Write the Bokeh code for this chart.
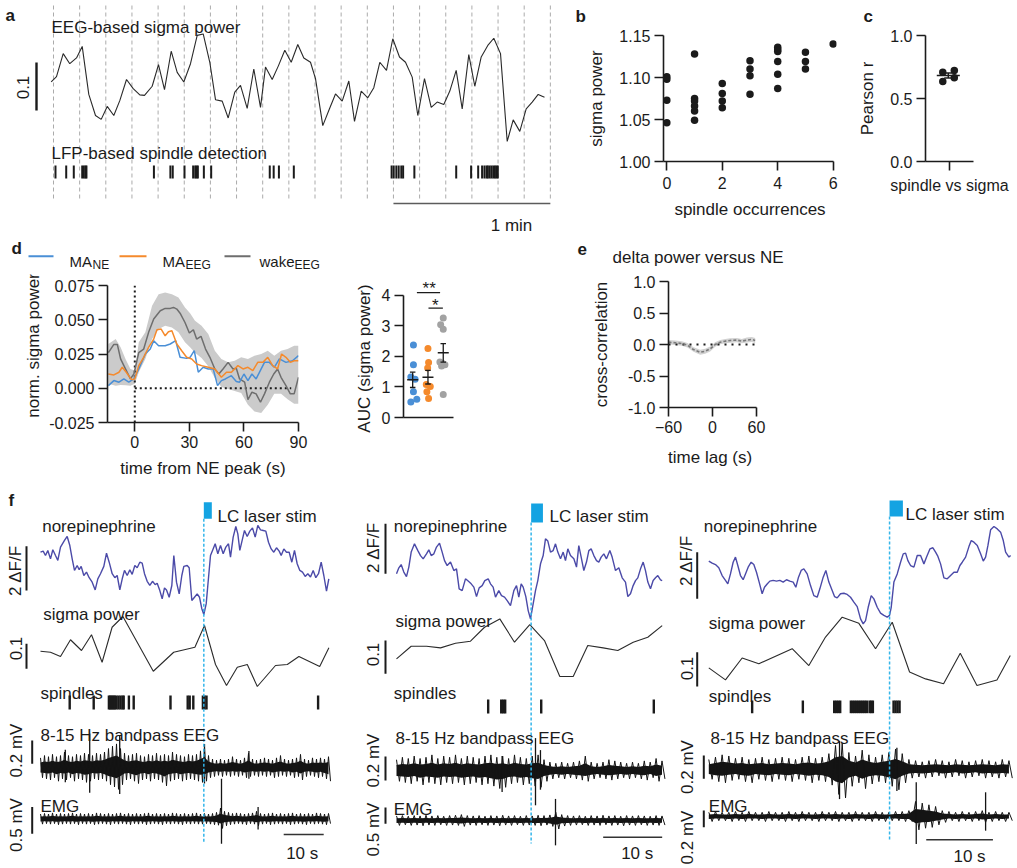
import math
from bokeh.plotting import figure
from bokeh.models import Range1d, FixedTicker, NumeralTickFormatter
from bokeh.layouts import row, column
from bokeh.embed import file_html
from bokeh.resources import INLINE
from bokeh.core.properties import value

FONT = "Liberation Sans"
INK = "#1b1b1b"
NE_COL = "#4b4aa8"
STIM_LINE = "#33b5ea"
STIM_RECT = "#14a3e2"
BLUE = "#4a8fd6"
ORANGE = "#f58a2c"
GRAY = "#6e6e6e"
LGRAY = "#a2a2a2"
BAND = "#cbcbcb"
TRACE = "#141414"

# ======================= DATA =======================
# (a) EEG-based sigma power and LFP-based spindles, time in s
a_bins = [0, 10, 20, 30, 40, 50, 60, 70, 80, 90, 100, 110, 120, 130, 140, 150, 160, 170, 180, 190]
a_sigma_t = [-0.88, 1.15, 3.71, 6.23, 8.80, 10.98, 13.50, 16.06, 18.24, 20.54, 23.06, 25.35, 27.92, 30.48,
             33.00, 34.80, 37.74, 40.15, 42.45, 45.01, 47.30, 49.83, 52.39, 54.95, 57.25, 59.77, 61.95, 64.51,
             66.81, 69.33, 71.51, 74.07, 76.60, 79.16, 81.07, 83.63, 86.04, 88.45, 90.90, 93.42, 95.72, 98.28,
             100.19, 102.98, 105.54, 107.84, 110.40, 112.93, 115.11, 117.67, 120.19, 122.49, 124.78, 127.34,
             129.75, 132.31, 134.61, 137.17, 139.31, 141.87, 144.44, 146.73, 149.25, 151.55, 153.99, 156.29,
             158.81, 161.11, 163.56, 166.08, 168.38, 170.94, 173.50, 175.79, 178.32, 180.76, 183.06, 185.35, 187.76]
a_sigma = [0.122, 0.133, 0.181, 0.160, 0.172, 0.196, 0.096, 0.052, 0.044, 0.071, 0.052, 0.083, 0.127, 0.108,
           0.095, 0.094, 0.113, 0.158, 0.106, 0.186, 0.142, 0.122, 0.160, 0.219, 0.222, 0.163, 0.085, 0.082,
           0.047, 0.101, 0.115, 0.067, 0.149, 0.069, 0.153, 0.127, 0.156, 0.188, 0.163, 0.200, 0.172, 0.163,
           0.129, 0.031, 0.066, 0.097, 0.082, 0.124, 0.040, 0.103, 0.089, 0.110, 0.163, 0.146, 0.212, 0.174,
           0.163, 0.132, 0.052, 0.129, 0.069, 0.080, 0.075, 0.103, 0.146, 0.066, 0.179, 0.113, 0.174, 0.198,
           0.213, 0.181, -0.002, 0.043, 0.019, 0.066, 0.080, 0.096, 0.090]
a_spindles = [0.76, 4.86, 7.76, 10.98, 11.6, 12.24, 12.6, 38.4, 44.7, 45.6, 50.1, 53.4, 54.2, 54.7, 55.2, 57.5,
              60.3, 82.7, 84.2, 86.2, 91.9, 129.3, 130.1, 131.1, 132.0, 133.0, 133.7, 138.0, 154.0, 159.7, 162.4,
              163.9, 164.8, 165.6, 166.1, 166.8, 167.5, 168.2, 168.8, 169.4, 169.9]

# (b) sigma power vs spindle occurrences
b_occ = [0, 0, 0, 0, 1, 1, 1, 1, 1, 1, 2, 2, 2, 2, 3, 3, 3, 3, 4, 4, 4, 4, 4, 4, 5, 5, 5, 6]
b_sigma = [1.101, 1.098, 1.073, 1.046, 1.128, 1.075, 1.072, 1.066, 1.060, 1.049, 1.093, 1.081, 1.072, 1.064,
           1.120, 1.110, 1.102, 1.080, 1.136, 1.133, 1.131, 1.119, 1.104, 1.087, 1.130, 1.119, 1.110, 1.140]

# (c) Pearson r
c_r = [0.709, 0.722, 0.635, 0.664]

# (d) normalised sigma power around NE peaks
d_ne_t = [-14.5, -11.5, -8.7, -6, -3.3, -0.5, 2.2, 5.8, 8.5, 10.4, 13.1, 16.7, 19.5, 22.5, 24.9, 28.5, 30.4, 32.7,
          34.9, 37.6, 40.4, 43.1, 45.5, 47.6, 49.8, 53.1, 55.8, 57.6, 60, 62.2, 64.4, 66.7, 71.3, 74, 76.7, 79.5,
          83.1, 86.7, 90]
d_ne = [0.0019, 0.0056, 0.0044, 0.0068, 0.0044, 0.0068, 0.0141, 0.025, 0.0286, 0.0347, 0.031, 0.031, 0.0323,
        0.0347, 0.0226, 0.0218, 0.0226, 0.0274, 0.0117, 0.0153, 0.0141, 0.0141, 0.0019, 0.0056, 0.0068, 0.0092,
        0.0049, 0.0044, 0.0104, 0.0056, 0.0104, 0.0068, 0.0189, 0.0189, 0.0153, 0.0214, 0.0189, 0.0201, 0.0238]
d_eeg_t = [-14.5, -11.5, -8.7, -6.9, -4.7, -1.8, 0, 2.2, 4.9, 7.6, 10.4, 12.2, 14.5, 16.7, 18.5, 20.4, 23.1, 25.8,
           28.5, 31.3, 34, 36.7, 40.4, 44, 47.6, 50.4, 53.1, 56.7, 59.5, 62.2, 64.9, 67.6, 70.4, 73.1, 75.8, 78.5,
           80.7, 83.1, 85.5, 87.6, 90]
d_eeg = [0.0104, 0.0097, 0.0117, 0.0153, 0.0117, 0.0063, 0.0068, 0.0165, 0.0226, 0.0299, 0.0359, 0.0427, 0.0432,
         0.0383, 0.0413, 0.042, 0.0323, 0.0274, 0.0226, 0.0214, 0.0177, 0.0165, 0.0153, 0.0141, 0.008, 0.0117,
         0.0117, 0.0165, 0.0141, 0.0153, 0.0129, 0.0189, 0.0189, 0.0226, 0.0165, 0.0141, 0.025, 0.0226, 0.0189,
         0.0201, 0.0201]
d_wake_t = [-14.5, -11.5, -9.6, -7.8, -6, -2.4, -0.5, 2.2, 4.9, 7.6, 10.4, 14, 16.7, 19.5, 21.3, 23.1, 24.9, 27.6,
            30, 32.2, 34, 36.4, 38.9, 41.3, 44, 46.2, 48.5, 51.3, 54, 55.8, 57.6, 60.4, 62.2, 64.4, 66.7, 69.1,
            71.3, 74, 76.4, 78.5, 80.4, 83.1, 85.5, 87.6, 90]
d_wake = [0.026, 0.032, 0.032, 0.0214, 0.0165, 0.0068, 0.0104, 0.026, 0.0286, 0.0408, 0.0505, 0.0566, 0.0583,
          0.0583, 0.059, 0.0578, 0.0548, 0.048, 0.0403, 0.0427, 0.0359, 0.0379, 0.0286, 0.0226, 0.0141, 0.0104,
          0.0141, 0.0189, 0.0141, 0.0146, 0.0068, 0.0044, -0.0083, -0.0029, -0.0041, -0.0102, -0.0041, 0.0044,
          0.0104, 0.0141, 0.008, 0.0019, -0.0041, -0.0041, 0.008]
d_band_t = [-14.5, -10.5, -7.8, -5.1, -2.4, 0, 2.2, 5.8, 9.5, 13.1, 16.7, 20.4, 24, 27.6, 30.4, 33.1, 36.7, 40.4,
            44, 47.6, 51.3, 54.9, 58.5, 62.2, 65.8, 69.5, 73.1, 76.7, 80.4, 84, 87.6, 90]
d_band_hi = [0.0323, 0.0359, 0.0299, 0.0214, 0.0141, 0.0129, 0.0335, 0.0408, 0.0602, 0.0687, 0.0699, 0.0687,
             0.0663, 0.059, 0.0548, 0.0493, 0.0456, 0.0396, 0.0274, 0.0214, 0.0189, 0.0201, 0.0226, 0.0214,
             0.0238, 0.025, 0.0274, 0.0238, 0.0274, 0.0286, 0.0311, 0.0311]
d_band_lo = [0.0032, 0.0019, 0.0023, 0.0022, 0.0019, 0.0032, 0.0117, 0.0214, 0.0359, 0.0432, 0.0456, 0.0444,
             0.0408, 0.0335, 0.030, 0.026, 0.022, 0.016, 0.0075, 0.001, -0.0005, -0.002, -0.0035, -0.012, -0.017,
             -0.018, -0.012, -0.004, -0.004, -0.008, -0.0114, -0.0114]

# (d, right) AUC of sigma power
auc_ne = [2.38, 1.73, 1.33, 1.25, 0.84, 0.60, 0.51]
auc_ma = [2.26, 1.80, 1.62, 1.08, 1.02, 0.84, 0.62]
auc_wake = [3.26, 3.04, 2.89, 1.82, 1.77, 1.73, 1.69, 0.75]

# (e) delta power vs NE cross-correlation
e_t = [-60, -50.9, -41.8, -34.1, -25.9, -16.8, -10, -3.2, 3.6, 10.5, 17.3, 24.1, 33.2, 40, 46.8, 53.6, 58.2]
e_r = [0.037, 0.027, 0.016, -0.011, -0.08, -0.123, -0.107, -0.07, 0.0, 0.037, 0.053, 0.064, 0.07, 0.053, 0.07,
       0.08, 0.064]
e_sem = [0.035, 0.035, 0.035, 0.035, 0.035, 0.04, 0.04, 0.04, 0.035, 0.035, 0.035, 0.035, 0.035, 0.035, 0.04,
         0.04, 0.04]

# (f) example traces, three recordings (time in s)
ne1_t = [0.00, 0.67, 1.25, 1.83, 2.50, 3.08, 3.75, 4.33, 5.00, 6.00, 6.67, 7.33, 7.92, 8.50, 9.17, 9.67, 10.17,
         10.83, 11.50, 12.17, 12.92, 13.67, 14.33, 15.00, 15.83, 16.50, 17.17, 17.92, 18.58, 19.17, 19.83, 20.50,
         21.00, 21.67, 22.33, 22.92, 23.58, 24.17, 24.83, 25.42, 26.00, 26.67, 27.33, 28.00, 28.67, 29.17, 29.83,
         30.42, 31.00, 31.50, 32.17, 32.83, 33.33, 34.00, 34.67, 35.33, 35.83, 36.67, 37.17, 37.83, 38.50, 39.17,
         39.75, 40.33, 40.83, 41.42, 41.83, 42.50, 43.08, 43.67, 44.33, 45.00, 45.67, 46.33, 47.00, 47.50, 48.17,
         48.83, 49.33, 49.83, 50.50, 51.00, 51.67, 52.33, 53.00, 53.67, 54.33, 55.00, 55.67, 56.33, 57.00, 57.67,
         58.33, 59.00, 59.67, 60.17, 60.83, 61.50, 62.17, 62.83, 63.50, 64.17, 64.83, 65.50, 66.17, 66.83, 67.50,
         68.17, 68.83, 69.50, 70.17, 70.83, 71.50, 72.08]
ne1 = [3.23, 3.28, 3.08, 3.31, 2.93, 3.34, 3.08, 2.86, 3.46, 3.76, 3.94, 3.53, 2.93, 2.41, 2.63, 2.44, 2.59, 2.18,
       2.33, 2.08, 1.88, 1.53, 2.03, 2.26, 2.59, 3.19, 2.78, 2.26, 2.08, 2.18, 1.53, 2.08, 2.41, 2.18, 2.44, 2.23,
       2.63, 2.53, 2.78, 2.74, 2.26, 1.92, 1.73, 1.92, 1.77, 1.83, 1.50, 1.13, 1.62, 1.53, 1.20, 1.73, 3.08, 1.88,
       1.35, 2.18, 2.59, 2.63, 2.53, 1.05, 1.20, 1.35, 1.20, 0.68, 0.42, 0.90, 1.73, 3.08, 3.34, 3.61, 3.16, 3.53,
       3.16, 3.46, 3.61, 3.01, 3.91, 4.39, 4.06, 3.31, 3.83, 4.21, 3.94, 4.18, 4.33, 3.91, 4.44, 4.24, 4.21, 4.18,
       3.68, 3.38, 3.23, 3.43, 3.28, 3.08, 3.38, 3.23, 3.23, 2.78, 3.31, 2.71, 2.41, 2.33, 2.14, 2.26, 2.11, 2.41,
       2.08, 2.26, 2.78, 2.18, 1.47, 2.03]
ne2_t = [0.00, 0.40, 0.79, 1.24, 1.69, 2.09, 2.49, 3.05, 3.62, 4.07, 4.52, 5.08, 5.48, 5.88, 6.33, 6.78, 7.29,
         7.74, 8.14, 8.59, 9.15, 9.72, 10.17, 10.62, 11.13, 11.69, 12.15, 12.66, 13.11, 13.56, 14.01, 14.52, 14.97,
         15.54, 15.93, 16.38, 16.78, 17.34, 17.80, 18.31, 18.76, 19.32, 19.89, 20.34, 20.73, 21.13, 21.47, 21.92,
         22.32, 22.71, 23.16, 23.56, 23.95, 24.41, 24.86, 25.25, 25.65, 26.10, 26.55, 26.95, 27.34, 27.80, 28.25,
         28.64, 29.04, 29.49, 30.06, 30.51, 30.90, 31.30, 31.75, 32.20, 32.60, 32.99, 33.45, 33.90, 34.29, 34.69,
         35.14, 35.59, 36.16, 36.55, 37.12, 37.68, 38.25, 38.81, 39.21, 39.66, 40.11, 40.51, 40.90, 41.36, 41.81,
         42.20, 42.60, 43.05, 43.50, 43.90, 44.29, 44.75, 45.03]
ne2 = [2.00, 2.24, 2.37, 2.07, 1.89, 2.27, 2.87, 3.20, 2.93, 2.73, 2.60, 2.80, 2.96, 2.73, 2.80, 3.07, 3.23, 2.87,
       2.53, 2.33, 2.47, 2.13, 2.20, 1.40, 1.33, 1.80, 1.71, 1.60, 1.47, 1.09, 1.44, 1.53, 1.73, 1.80, 1.60, 1.47,
       1.07, 1.33, 1.13, 1.07, 0.93, 0.73, 1.33, 1.53, 1.07, 1.60, 1.47, 1.09, 0.53, 0.20, 0.80, 1.33, 1.73, 2.40,
       2.73, 3.40, 3.31, 2.87, 2.93, 3.20, 2.87, 2.60, 2.87, 2.53, 3.00, 2.73, 2.60, 2.27, 3.13, 2.67, 2.13, 2.47,
       2.93, 3.00, 2.73, 2.53, 2.47, 2.67, 2.80, 2.60, 2.93, 2.67, 2.13, 2.24, 1.84, 1.67, 1.09, 1.20, 1.53, 1.73,
       1.84, 2.20, 2.47, 2.13, 1.67, 1.40, 1.73, 1.84, 1.93, 1.76, 1.73]
ne3_t = [0.00, 0.50, 1.00, 1.50, 2.00, 2.50, 2.85, 3.25, 3.65, 4.00, 4.35, 4.75, 5.15, 5.50, 5.90, 6.35, 6.75,
         7.15, 7.55, 8.00, 8.35, 8.75, 9.15, 9.65, 10.15, 10.65, 11.15, 11.65, 12.15, 12.65, 13.05, 13.45, 13.85,
         14.25, 14.75, 15.25, 15.75, 16.25, 16.65, 17.15, 17.55, 18.00, 18.50, 18.85, 19.25, 19.75, 20.25, 20.75,
         21.25, 21.75, 22.25, 22.75, 23.15, 23.50, 23.90, 24.35, 24.75, 25.25, 25.75, 26.25, 26.75, 27.10, 27.35,
         27.75, 28.25, 28.75, 29.15, 29.50, 29.85, 30.25, 30.75, 31.25, 31.75, 32.25, 32.65, 33.15, 33.60, 34.00,
         34.35, 34.75, 35.25, 35.75, 36.25, 36.75, 37.25, 37.65, 38.00, 38.50, 39.00, 39.35, 39.75, 40.25, 40.75,
         41.15, 41.50, 41.85, 42.25, 42.75, 43.25, 43.75, 44.15, 44.50, 45.00, 45.25]
ne3 = [2.69, 2.60, 2.54, 2.40, 2.07, 1.86, 1.71, 2.14, 2.64, 2.86, 2.50, 2.07, 1.89, 2.14, 2.43, 2.64, 2.54, 2.21,
       1.79, 1.29, 1.57, 1.71, 1.83, 1.86, 1.83, 1.86, 1.79, 1.89, 1.83, 1.79, 1.57, 2.00, 2.29, 2.36, 2.14, 1.64,
       1.21, 1.14, 1.50, 2.00, 2.29, 1.79, 1.43, 1.17, 1.11, 1.29, 1.31, 1.26, 1.14, 0.93, 0.74, 0.21, 0.00, 0.14,
       0.71, 1.21, 1.07, 0.71, 0.46, 0.36, 0.29, 0.36, 0.71, 1.79, 2.14, 2.64, 3.00, 3.03, 2.71, 2.50, 2.43, 2.93,
       2.93, 2.57, 2.86, 3.21, 3.26, 3.07, 2.89, 2.57, 1.97, 1.93, 2.07, 2.21, 2.21, 2.50, 2.64, 2.86, 3.31, 3.57,
       3.50, 3.36, 3.00, 2.69, 2.86, 3.36, 4.03, 4.17, 4.07, 3.93, 3.57, 3.07, 2.86, 2.93]

sg1_t = [0, 2.5, 5, 7.5, 10.25, 12.75, 15.4, 17.9, 20.6, 28.2, 33.3, 38.6, 41, 43.75, 46.5, 49.2, 51.7, 54.2,
         58.75, 61.7, 64.6, 69.8, 72.1]
sg1 = [0.197, 0.193, 0.176, 0.243, 0.200, 0.263, 0.153, 0.293, 0.336, 0.117, 0.193, 0.213, 0.300, 0.144, 0.060,
       0.133, 0.144, 0.056, 0.140, 0.144, 0.176, 0.136, 0.211]
sg2_t = [0, 2.49, 5.08, 7.46, 10.0, 12.54, 14.92, 17.51, 20.0, 22.59, 25.08, 27.68, 29.95, 32.42, 35.03, 37.51,
         40.12, 42.59, 45.03]
sg2 = [0.125, 0.163, 0.163, 0.158, 0.172, 0.178, 0.220, 0.245, 0.175, 0.228, 0.180, 0.072, 0.072, 0.165, 0.158,
       0.150, 0.175, 0.190, 0.225]
sg3_t = [0, 2.5, 5.0, 7.5, 12.5, 15.0, 17.5, 20.0, 22.5, 25.0, 27.5, 30.1, 32.5, 35.2, 37.7, 40.2, 43.2, 45.2]
sg3 = [0.095, 0.060, 0.124, 0.107, 0.151, 0.102, 0.185, 0.243, 0.225, 0.151, 0.228, 0.083, 0.063, 0.049, 0.138,
       0.044, 0.060, 0.131]

sp1 = [7.3, 13.3, 17.1, 17.4, 17.7, 18.0, 18.3, 18.6, 19.0, 19.5, 20.0, 20.5, 20.8, 22.1, 23.3, 32.5, 36.8, 37.3,
       38.2, 40.6, 41.0, 41.5, 69.4]
sp2 = [15.54, 17.75, 18.08, 18.42, 24.53, 43.61]
sp3 = [6.5, 14.1, 18.8, 19.1, 19.4, 19.7, 21.3, 21.6, 21.9, 22.2, 22.5, 22.8, 23.1, 23.4, 23.7, 24.1, 24.35,
       24.6, 27.7, 28.0, 28.3, 28.6]

stim_t = [40.83, 22.82, 27.1]

# 8-15 Hz bandpass EEG envelope (mV), 1 s samples
eeg1_t = list(range(0, 73))
eeg1_hi = [0.08, 0.10, 0.09, 0.11, 0.09, 0.10, 0.13, 0.10, 0.09, 0.11, 0.10, 0.12, 0.11, 0.10, 0.12, 0.11, 0.13,
           0.16, 0.18, 0.20, 0.16, 0.12, 0.10, 0.11, 0.12, 0.10, 0.09, 0.11, 0.10, 0.12, 0.10, 0.11, 0.10, 0.13,
           0.11, 0.10, 0.09, 0.11, 0.10, 0.11, 0.14, 0.17, 0.10, 0.07, 0.06, 0.07, 0.06, 0.07, 0.09, 0.07, 0.06,
           0.08, 0.12, 0.07, 0.06, 0.07, 0.08, 0.07, 0.06, 0.08, 0.10, 0.07, 0.06, 0.07, 0.08, 0.11, 0.07, 0.06,
           0.08, 0.07, 0.08, 0.07, 0.09]
eeg1_lo = [-0.09, -0.10, -0.11, -0.09, -0.12, -0.10, -0.11, -0.09, -0.12, -0.10, -0.11, -0.13, -0.12, -0.10,
           -0.11, -0.10, -0.12, -0.15, -0.17, -0.19, -0.15, -0.11, -0.10, -0.12, -0.14, -0.11, -0.10, -0.12, -0.10,
           -0.11, -0.13, -0.16, -0.12, -0.11, -0.10, -0.12, -0.11, -0.10, -0.11, -0.12, -0.13, -0.12, -0.09, -0.08,
           -0.07, -0.08, -0.07, -0.08, -0.07, -0.08, -0.07, -0.09, -0.08, -0.07, -0.08, -0.07, -0.08, -0.07, -0.09,
           -0.08, -0.07, -0.08, -0.07, -0.09, -0.08, -0.11, -0.08, -0.07, -0.08, -0.09, -0.08, -0.10, -0.12]
eeg1_spk_t = [6.2, 12.3, 19.8, 41.0, 52.1]
eeg1_spk_hi = [0.15, 0.29, 0.27, 0.20, 0.14]
eeg1_spk_lo = [-0.13, -0.22, -0.23, -0.14, -0.10]

eeg2_t = list(range(0, 46))
eeg2_hi = [0.09, 0.11, 0.10, 0.12, 0.10, 0.11, 0.13, 0.10, 0.12, 0.11, 0.13, 0.10, 0.12, 0.11, 0.10, 0.12, 0.13,
           0.11, 0.12, 0.10, 0.13, 0.11, 0.10, 0.12, 0.13, 0.09, 0.07, 0.06, 0.07, 0.06, 0.07, 0.08, 0.12, 0.07,
           0.06, 0.07, 0.09, 0.08, 0.07, 0.06, 0.07, 0.06, 0.08, 0.07, 0.10, 0.08]
eeg2_lo = [-0.09, -0.10, -0.11, -0.09, -0.12, -0.10, -0.11, -0.12, -0.10, -0.11, -0.10, -0.12, -0.11, -0.10,
           -0.12, -0.11, -0.13, -0.15, -0.14, -0.11, -0.10, -0.12, -0.11, -0.13, -0.14, -0.09, -0.07, -0.06, -0.07,
           -0.06, -0.07, -0.08, -0.09, -0.07, -0.06, -0.07, -0.08, -0.07, -0.06, -0.07, -0.06, -0.07, -0.08, -0.06,
           -0.09, -0.07]
eeg2_spk_t = [17.9, 23.56, 24.4]
eeg2_spk_hi = [0.12, 0.27, 0.17]
eeg2_spk_lo = [-0.18, -0.29, -0.16]

eeg3_t = list(range(0, 46))
eeg3_hi = [0.08, 0.10, 0.12, 0.11, 0.09, 0.10, 0.08, 0.09, 0.10, 0.08, 0.09, 0.10, 0.09, 0.08, 0.10, 0.11, 0.09,
           0.10, 0.13, 0.20, 0.22, 0.14, 0.11, 0.16, 0.12, 0.10, 0.12, 0.14, 0.17, 0.13, 0.08, 0.07, 0.06, 0.07,
           0.08, 0.07, 0.06, 0.08, 0.07, 0.06, 0.07, 0.08, 0.07, 0.06, 0.08, 0.07]
eeg3_lo = [-0.09, -0.11, -0.12, -0.10, -0.09, -0.11, -0.12, -0.09, -0.10, -0.11, -0.09, -0.10, -0.11, -0.09,
           -0.10, -0.12, -0.10, -0.11, -0.14, -0.22, -0.25, -0.15, -0.12, -0.17, -0.13, -0.11, -0.12, -0.15, -0.18,
           -0.12, -0.08, -0.07, -0.08, -0.07, -0.06, -0.08, -0.07, -0.06, -0.08, -0.07, -0.06, -0.08, -0.07, -0.08,
           -0.07, -0.08]
eeg3_spk_t = [19.6, 28.2]
eeg3_spk_hi = [0.24, 0.18]
eeg3_spk_lo = [-0.26, -0.19]

# EMG envelope (mV), 1 s samples
emg1_t = list(range(0, 73))
emg1_hi = [0.09, 0.10, 0.09, 0.11, 0.09, 0.10, 0.09, 0.10, 0.11, 0.09,
           0.10, 0.09, 0.10, 0.09, 0.11, 0.10, 0.09, 0.10, 0.09, 0.10,
           0.11, 0.09, 0.10, 0.09, 0.10, 0.09, 0.10, 0.11, 0.09, 0.10,
           0.09, 0.10, 0.09, 0.11, 0.10, 0.09, 0.10, 0.09, 0.10, 0.11,
           0.09, 0.10, 0.09, 0.10, 0.12, 0.20, 0.14, 0.12, 0.10, 0.11,
           0.10, 0.09, 0.10, 0.11, 0.14, 0.10, 0.09, 0.10, 0.11, 0.09,
           0.10, 0.09, 0.10, 0.11, 0.09, 0.10, 0.09, 0.10, 0.09, 0.11,
           0.10, 0.09, 0.10]
emg1_lo = [-0.10, -0.09, -0.10, -0.09, -0.11, -0.10, -0.09, -0.10, -0.09, -0.11,
           -0.09, -0.10, -0.09, -0.11, -0.10, -0.09, -0.10, -0.11, -0.09, -0.10,
           -0.09, -0.10, -0.11, -0.09, -0.10, -0.09, -0.11, -0.10, -0.09, -0.10,
           -0.11, -0.09, -0.10, -0.09, -0.10, -0.11, -0.09, -0.10, -0.09, -0.10,
           -0.10, -0.09, -0.10, -0.11, -0.12, -0.18, -0.13, -0.11, -0.10, -0.09,
           -0.10, -0.11, -0.09, -0.10, -0.13, -0.10, -0.09, -0.11, -0.10, -0.09,
           -0.10, -0.09, -0.11, -0.10, -0.09, -0.10, -0.11, -0.09, -0.10, -0.09,
           -0.10, -0.11, -0.09]
emg1_spk_t = [45.25, 54.4]
emg1_spk_hi = [0.75, 0.22]
emg1_spk_lo = [-0.47, -0.20]

emg2_t = list(range(0, 46))
emg2_hi = [0.14, 0.15, 0.13, 0.15, 0.14, 0.16, 0.14, 0.15, 0.13, 0.15,
           0.16, 0.18, 0.15, 0.14, 0.15, 0.13, 0.15, 0.14, 0.16, 0.14,
           0.15, 0.13, 0.15, 0.14, 0.16, 0.15, 0.17, 0.25, 0.18, 0.15,
           0.14, 0.15, 0.13, 0.15, 0.14, 0.16, 0.14, 0.15, 0.13, 0.15,
           0.14, 0.15, 0.14, 0.13, 0.15, 0.14]
emg2_lo = [-0.15, -0.13, -0.15, -0.14, -0.16, -0.14, -0.15, -0.13, -0.15, -0.14,
           -0.15, -0.18, -0.14, -0.15, -0.13, -0.15, -0.14, -0.16, -0.14, -0.15,
           -0.13, -0.15, -0.14, -0.15, -0.16, -0.14, -0.18, -0.26, -0.17, -0.15,
           -0.14, -0.13, -0.15, -0.14, -0.15, -0.13, -0.15, -0.14, -0.16, -0.14,
           -0.15, -0.13, -0.15, -0.14, -0.15, -0.14]
emg2_spk_t = [26.95]
emg2_spk_hi = [0.66]
emg2_spk_lo = [-0.76]

emg3_t = list(range(0, 46))
emg3_hi = [0.05, 0.06, 0.05, 0.05, 0.06, 0.05, 0.06, 0.05, 0.05, 0.06,
           0.05, 0.05, 0.06, 0.05, 0.06, 0.05, 0.05, 0.06, 0.05, 0.06,
           0.05, 0.05, 0.06, 0.05, 0.05, 0.06, 0.05, 0.05, 0.06, 0.06,
           0.07, 0.18, 0.16, 0.14, 0.12, 0.07, 0.06, 0.05, 0.06, 0.05,
           0.06, 0.07, 0.05, 0.06, 0.05, 0.05]
emg3_lo = [-0.06, -0.05, -0.05, -0.06, -0.05, -0.06, -0.05, -0.05, -0.06, -0.05,
           -0.05, -0.06, -0.05, -0.06, -0.05, -0.05, -0.06, -0.05, -0.05, -0.06,
           -0.05, -0.06, -0.05, -0.05, -0.06, -0.05, -0.06, -0.05, -0.05, -0.06,
           -0.06, -0.16, -0.14, -0.13, -0.10, -0.07, -0.05, -0.06, -0.05, -0.06,
           -0.05, -0.07, -0.06, -0.05, -0.06, -0.05]
emg3_spk_t = [31.1, 41.5]
emg3_spk_hi = [0.41, 0.29]
emg3_spk_lo = [-0.33, -0.17]


# ======================= HELPERS =======================
def W(p):
    return column(p)


def canvas(x0, x1, y0, y1):
    p = figure(width=round(x1 - x0), height=round(y1 - y0),
               x_range=Range1d(x0, x1), y_range=Range1d(y1, y0),
               x_axis_location=None, y_axis_location=None, title=None,
               toolbar_location=None, output_backend="svg", min_border=0)
    p.outline_line_color = None
    p.xgrid.visible = False
    p.ygrid.visible = False
    return p


def add_x(p, name, zero_px, ppu):
    r = p.x_range
    d = dict(p.extra_x_ranges)
    d[name] = Range1d((r.start - zero_px) / ppu, (r.end - zero_px) / ppu)
    p.extra_x_ranges = d


def add_y(p, name, zero_px, ppu):
    r = p.y_range
    d = dict(p.extra_y_ranges)
    d[name] = Range1d((zero_px - r.start) / ppu, (zero_px - r.end) / ppu)
    p.extra_y_ranges = d


def txt(p, x, y, s, size=17, align="left", base="alphabetic", angle=0.0, bold=False, color=INK,
        xr="default", yr="default"):
    p.text(x=[x], y=[y], text=[s], text_font=value(FONT), text_font_size=f"{size}px",
           text_font_style="bold" if bold else "normal", text_align=align, text_baseline=base,
           angle=angle, text_color=color, x_range_name=xr, y_range_name=yr)


def axfig(x0, x1, y0, y1, fl, fr, ft, fbt, xr, yr):
    p = figure(width=round(x1 - x0), height=round(y1 - y0), x_range=Range1d(*xr), y_range=Range1d(*yr),
               toolbar_location=None, output_backend="svg", title=None,
               min_border_left=round(fl - x0), min_border_right=round(x1 - fr),
               min_border_top=round(ft - y0), min_border_bottom=round(y1 - fbt))
    p.extra_x_ranges = {"px": Range1d(fl, fr)}
    p.extra_y_ranges = {"px": Range1d(fbt, ft)}
    p.outline_line_color = None
    p.xgrid.visible = False
    p.ygrid.visible = False
    for ax in p.axis:
        ax.axis_line_width = 1.6
        ax.axis_line_color = INK
        ax.major_tick_line_width = 1.6
        ax.major_tick_line_color = INK
        ax.major_tick_in = 0
        ax.major_tick_out = 9
        ax.minor_tick_line_color = None
        ax.major_label_text_font = FONT
        ax.major_label_text_font_size = "16px"
        ax.major_label_text_color = INK
        ax.major_label_standoff = 4
        ax.axis_label_text_font = FONT
        ax.axis_label_text_font_size = "17px"
        ax.axis_label_text_font_style = "normal"
        ax.axis_label_text_color = INK
        ax.axis_label_standoff = 8
    return p


def dense_trace(p, t, hi, lo, yr):
    # dense electrophysiology trace: solid body plus alternating envelope excursions
    p.varea(x=t, y1=[0.5 * v for v in lo], y2=[0.5 * v for v in hi], x_range_name="t", y_range_name=yr,
            fill_color=TRACE)
    zt, zv = [], []
    for ti, h, l in zip(t, hi, lo):
        zt += [ti, ti + 0.5]
        zv += [h, l]
    p.line(zt, zv, x_range_name="t", y_range_name=yr, line_color=TRACE, line_width=1)


# ======================= PANEL a =======================
fa = canvas(0, 568, 0, 236)
add_x(fa, "t", 53, 2.615)
add_y(fa, "sig", 140, 480)
fa.segment(x0=a_bins, x1=a_bins, y0=5, y1=200, x_range_name="t", line_color="#ababab",
           line_dash="4 3", line_width=1)
fa.line(a_sigma_t, a_sigma, x_range_name="t", y_range_name="sig", line_color="#2a2a2a", line_width=1.1)
fa.segment(x0=a_spindles, x1=a_spindles, y0=165, y1=178, x_range_name="t", line_color=INK, line_width=2)
fa.segment(x0=[36], x1=[36], y0=[0.0625], y1=[0.1625], y_range_name="sig", line_color=INK, line_width=2.4)
txt(fa, 22, 87, "0.1", angle=math.pi / 2, align="center", base="middle")
fa.segment(x0=[130], x1=[190], y0=[203], y1=[203], x_range_name="t", line_color="#5c5c5c", line_width=1.6)
txt(fa, 511, 225, "1 min", align="center")
txt(fa, 5, 15, "a", bold=True)
txt(fa, 51, 27, "EEG-based sigma power")
txt(fa, 51, 153, "LFP-based spindle detection")

# ======================= PANEL b =======================
hb = canvas(568, 855, 0, 27)
txt(hb, 575, 16, "b", bold=True)
fb = axfig(568, 855, 27, 236, 663, 836, 35, 161, (-0.12, 6.12), (1.0, 1.15))
fb.scatter(b_occ, b_sigma, size=7.5, fill_color=INK, line_color=None)
fb.xaxis.ticker = FixedTicker(ticks=[0, 2, 4, 6])
fb.xaxis.bounds = (-0.12, 6)
fb.yaxis.ticker = FixedTicker(ticks=[1.0, 1.05, 1.10, 1.15])
fb.yaxis.formatter = NumeralTickFormatter(format="0.00")
fb.xaxis.axis_label = "spindle occurrences"
fb.yaxis.axis_label = "sigma power"
fb.xaxis.major_label_standoff = 6
fb.yaxis.axis_label_standoff = 10

# ======================= PANEL c =======================
hc = canvas(855, 1016, 0, 27)
txt(hc, 863, 16, "c", bold=True)
fc = axfig(855, 1016, 27, 236, 924, 973, 35, 161, (0, 2), (0, 1))
c_jit = [-0.28, 0.2, -0.28, 0.2]
c_x = [1 + j for j in c_jit]
fc.scatter(c_x, c_r, size=7.5, fill_color=INK, line_color=None)
c_mean = sum(c_r) / len(c_r)
c_sd = (sum((v - c_mean) ** 2 for v in c_r) / (len(c_r) - 1)) ** 0.5
c_sem = c_sd / len(c_r) ** 0.5
fc.segment(x0=[0.47], x1=[1.43], y0=[c_mean], y1=[c_mean], line_color=INK, line_width=1.6)
fc.segment(x0=[0.95], x1=[0.95], y0=[c_mean - c_sem], y1=[c_mean + c_sem], line_color=INK, line_width=1.4)
fc.segment(x0=[0.78, 0.78], x1=[1.12, 1.12], y0=[c_mean - c_sem, c_mean + c_sem],
           y1=[c_mean - c_sem, c_mean + c_sem], line_color=INK, line_width=1.4)
fc.xaxis.ticker = FixedTicker(ticks=[1])
fc.xaxis.major_label_overrides = {1: "spindle vs sigma"}
fc.xaxis.major_label_standoff = 6
fc.yaxis.ticker = FixedTicker(ticks=[0, 0.5, 1.0])
fc.yaxis.formatter = NumeralTickFormatter(format="0.0")
fc.yaxis.axis_label = "Pearson r"
fc.yaxis.axis_label_standoff = 10

# ======================= PANEL d =======================
fdl = canvas(0, 330, 236, 274)
txt(fdl, 11, 248, "d", bold=True)
fdl.segment(x0=[28, 119, 224], x1=[53, 146, 250], y0=[255.7] * 3, y1=[255.7] * 3,
            line_color=[BLUE, ORANGE, GRAY], line_width=2)
txt(fdl, 69, 261, "MA", size=15)
txt(fdl, 92, 264.5, "NE", size=12)
txt(fdl, 162, 261, "MA", size=15)
txt(fdl, 185, 264.5, "EEG", size=12)
txt(fdl, 259, 261, "wake", size=15)
txt(fdl, 294, 264.5, "EEG", size=12)

lcd = canvas(0, 46, 274, 484)
txt(lcd, 32.5, 345, "norm. sigma power", angle=math.pi / 2, align="center", base="middle")
fd = axfig(46, 330, 274, 484, 106, 297.7, 285, 421.7, (-15, 90), (-0.025, 0.075))
fd.varea(x=d_band_t, y1=d_band_lo, y2=d_band_hi, fill_color=BAND)
fd.line([0, 0], [-0.025, 0.076], line_color=INK, line_dash="2 3", line_width=2)
fd.line([0, 86], [0, 0], line_color=INK, line_dash="2 3", line_width=2)
fd.line(d_wake_t, d_wake, line_color=GRAY, line_width=1.5)
fd.line(d_ne_t, d_ne, line_color=BLUE, line_width=1.5)
fd.line(d_eeg_t, d_eeg, line_color=ORANGE, line_width=1.5)
fd.xaxis.ticker = FixedTicker(ticks=[0, 30, 60, 90])
fd.yaxis.ticker = FixedTicker(ticks=[-0.025, 0, 0.025, 0.05, 0.075])
fd.yaxis.formatter = NumeralTickFormatter(format="0.000")
fd.xaxis.axis_label = "time from NE peak (s)"

# AUC (frame reaches above the axis so the significance marks sit inside it)
lca = canvas(330, 378, 236, 484)
txt(lca, 363.5, 358, "AUC (sigma power)", angle=math.pi / 2, align="center", base="middle")
fauc = axfig(378, 545, 236, 484, 403.3, 453.3, 276, 417.3, (-0.6, 2.67), (0, 4.621))
auc_sets = [auc_ne, auc_ma, auc_wake]
auc_cols = [BLUE, ORANGE, LGRAY]
auc_jit = [[0.05, 0.05, -0.12, 0.16, 0.05, 0.27, -0.12],
           [0.0, 0.04, -0.02, -0.11, 0.15, -0.07, 0.04],
           [0.0, -0.17, 0.0, -0.22, -0.04, 0.11, -0.11, 0.0]]
for gi, (vals, col, jit) in enumerate(zip(auc_sets, auc_cols, auc_jit)):
    fauc.scatter([gi + j for j in jit], vals, size=7, fill_color=col, line_color=None)
    m = sum(vals) / len(vals)
    sd = (sum((v - m) ** 2 for v in vals) / (len(vals) - 1)) ** 0.5
    se = sd / len(vals) ** 0.5
    fauc.segment(x0=[gi - 0.36], x1=[gi + 0.36], y0=[m], y1=[m], line_color=INK, line_width=1.5)
    fauc.segment(x0=[gi], x1=[gi], y0=[m - se], y1=[m + se], line_color=INK, line_width=1.3)
    fauc.segment(x0=[gi - 0.18, gi - 0.18], x1=[gi + 0.18, gi + 0.18], y0=[m - se, m + se],
                 y1=[m - se, m + se], line_color=INK, line_width=1.3)
fauc.segment(x0=[0.276, 1.034], x1=[1.793, 1.975], y0=[4.09, 3.585], y1=[4.09, 3.585],
             line_color=INK, line_width=1.2)
txt(fauc, 429, 278.5, "**", align="center", base="top", xr="px", yr="px")
txt(fauc, 435, 296, "*", align="center", base="top", xr="px", yr="px")
fauc.xaxis.ticker = FixedTicker(ticks=[])
fauc.yaxis.ticker = FixedTicker(ticks=[0, 1, 2, 3, 4])
fauc.yaxis.bounds = (0, 4)

# ======================= PANEL e =======================
he = canvas(545, 800, 236, 272)
txt(he, 577, 248, "e", bold=True)
txt(he, 612, 257, "delta power versus NE")
fe = axfig(545, 800, 272, 484, 668.3, 756, 281, 406.7, (-60, 60), (-1, 1))
e_lo = [r - s for r, s in zip(e_r, e_sem)]
e_hi = [r + s for r, s in zip(e_r, e_sem)]
fe.varea(x=e_t, y1=e_lo, y2=e_hi, fill_color="#d2d2d2")
fe.line([-60, 60], [0, 0], line_color=INK, line_dash="2 5", line_width=2)
fe.line(e_t, e_r, line_color="#7a7a7a", line_dash="3 2", line_width=1.6)
fe.xaxis.ticker = FixedTicker(ticks=[-60, 0, 60])
fe.yaxis.ticker = FixedTicker(ticks=[-1, -0.5, 0, 0.5, 1])
fe.yaxis.formatter = NumeralTickFormatter(format="0.0")
fe.xaxis.axis_label = "time lag  (s)"
fe.yaxis.axis_label = "cross-correlation"
fe.yaxis.axis_label_standoff = 14
fe.xaxis.axis_label_standoff = 12


# ======================= PANEL f =======================
def build_f(L, ne_t, ne_v, sg_t, sg_v, sp_t, eeg_t, eeg_hi, eeg_lo, eeg_st, eeg_sh, eeg_sl,
            emg_t, emg_hi, emg_lo, emg_st, emg_sh, emg_sl, stim, emg_bar_len, emg_text):
    p = canvas(L["x0"], L["x1"], 484, 866)
    add_x(p, "t", L["t0"], L["tppu"])
    add_y(p, "ne", L["ne0"], L["neppu"])
    add_y(p, "sg", L["sg0"], L["sgppu"])
    add_y(p, "eeg", L["eeg0"], L["eegppu"])
    add_y(p, "emg", L["emg0"], L["emgppu"])
    # traces
    p.line(ne_t, ne_v, x_range_name="t", y_range_name="ne", line_color=NE_COL, line_width=1.4)
    p.line(sg_t, sg_v, x_range_name="t", y_range_name="sg", line_color="#2b2b2b", line_width=1.1)
    p.segment(x0=sp_t, x1=sp_t, y0=L["sp"][0], y1=L["sp"][1], x_range_name="t", line_color=INK,
              line_width=2.4)
    dense_trace(p, eeg_t, eeg_hi, eeg_lo, "eeg")
    p.segment(x0=eeg_st, x1=eeg_st, y0=eeg_sl, y1=eeg_sh, x_range_name="t", y_range_name="eeg",
              line_color=TRACE, line_width=1.3)
    dense_trace(p, emg_t, emg_hi, emg_lo, "emg")
    p.segment(x0=emg_st, x1=emg_st, y0=emg_sl, y1=emg_sh, x_range_name="t", y_range_name="emg",
              line_color=TRACE, line_width=1.3)
    # scale bars
    bx, b0 = L["nebar"]
    p.segment(x0=[bx], x1=[bx], y0=[b0], y1=[b0 + 2], y_range_name="ne", line_color=INK, line_width=2)
    bx, b0 = L["sgbar"]
    p.segment(x0=[bx], x1=[bx], y0=[b0], y1=[b0 + 0.1], y_range_name="sg", line_color=INK, line_width=2)
    bx, b0 = L["eegbar"]
    p.segment(x0=[bx], x1=[bx], y0=[b0], y1=[b0 + 0.2], y_range_name="eeg", line_color=INK, line_width=2)
    bx, b0 = L["emgbar"]
    p.segment(x0=[bx], x1=[bx], y0=[b0], y1=[b0 + emg_bar_len], y_range_name="emg", line_color=INK,
              line_width=2)
    t10, y10 = L["ten"]
    p.segment(x0=[t10], x1=[t10 + 10], y0=[y10], y1=[y10], x_range_name="t", line_color="#333333",
              line_width=1.5)
    # stimulation
    p.quad(left=[stim], right=[stim + 2], top=[L["stim"][0]], bottom=[L["stim"][1]], x_range_name="t",
           fill_color=STIM_RECT, line_color=None)
    p.segment(x0=[stim], x1=[stim], y0=[L["stim"][1]], y1=[L["dash_bot"]], x_range_name="t",
              line_color=STIM_LINE, line_dash="3 2", line_width=1.5)
    # texts
    T = L["txt"]
    txt(p, *T["norepi"], "norepinephrine")
    txt(p, *T["lcs"], "LC laser stim")
    txt(p, *T["sigma"], "sigma power")
    txt(p, *T["spind"], "spindles")
    txt(p, *T["eeg"], "8-15 Hz bandpass EEG")
    txt(p, *T["emg"], "EMG")
    txt(p, *T["ten"], "10 s", align="center")
    r = math.pi / 2
    txt(p, *T["ne_lab"], "2 \u0394F/F", angle=r, align="center", base="middle")
    txt(p, *T["sg_lab"], "0.1", angle=r, align="center", base="middle")
    txt(p, *T["eeg_lab"], "0.2 mV", angle=r, align="center", base="middle")
    txt(p, *T["emg_lab"], emg_text, angle=r, align="center", base="middle")
    return p


L1 = dict(x0=0, x1=345, t0=40, tppu=4, ne0=623.33, neppu=22.17, sg0=700, sgppu=250, eeg0=766.7, eegppu=116.5,
          emg0=818.3, emgppu=53.3, stim=(501.7, 518.3), dash_bot=843, sp=(695, 709),
          nebar=(26, 1.5), sgbar=(26, 0.127), eegbar=(31.7, 0.03), emgbar=(31.7, -0.28), ten=(60.8, 834),
          txt=dict(norepi=(41.7, 526), lcs=(217, 516), sigma=(42.7, 614), spind=(40, 693.3), eeg=(40, 735),
                   emg=(40, 806), ten=(301.7, 853), ne_lab=(15, 570), sg_lab=(15.3, 648),
                   eeg_lab=(16, 750), emg_lab=(16, 824.5)))
L2 = dict(x0=345, x1=670, t0=396, tppu=5.9, ne0=623.33, neppu=25, sg0=700, sgppu=333, eeg0=770, eegppu=120,
          emg0=820, emgppu=32.7, stim=(503, 522), dash_bot=843, sp=(699, 713),
          nebar=(385, 2.0), sgbar=(385, 0.08), eegbar=(385, -0.083), emgbar=(385, -0.1), ten=(35.03, 836.7),
          txt=dict(norepi=(393.3, 526), lcs=(549, 516), sigma=(395, 620.7), spind=(393.3, 693.3),
                   eeg=(395, 738.3), emg=(393.3, 809.3), ten=(636.7, 853.3), ne_lab=(372.5, 547),
                   sg_lab=(372.5, 654), eeg_lab=(372.5, 760), emg_lab=(372.5, 829)))
L3 = dict(x0=670, x1=1016, t0=708.3, tppu=6.67, ne0=623.33, neppu=23.33, sg0=700, sgppu=343, eeg0=768.3,
          eegppu=116.5, emg0=816, emgppu=83.5, stim=(500, 516), dash_bot=839, sp=(700, 712.7),
          nebar=(696.7, 1.07), sgbar=(696.7, 0.041), eegbar=(703.3, -0.086), emgbar=(703.3, -0.128),
          ten=(32.6, 839.3),
          txt=dict(norepi=(703.3, 526), lcs=(905, 514), sigma=(708.3, 623.3), spind=(708.3, 696),
                   eeg=(710, 738.3), emg=(708.3, 806), ten=(969, 856), ne_lab=(686, 560), sg_lab=(686, 668),
                   eeg_lab=(687, 766.5), emg_lab=(687, 837)))

f1 = build_f(L1, ne1_t, ne1, sg1_t, sg1, sp1, eeg1_t, eeg1_hi, eeg1_lo, eeg1_spk_t, eeg1_spk_hi, eeg1_spk_lo,
             emg1_t, emg1_hi, emg1_lo, emg1_spk_t, emg1_spk_hi, emg1_spk_lo, stim_t[0], 0.5, "0.5 mV")
txt(f1, 8, 500, "f", bold=True)
f2 = build_f(L2, ne2_t, ne2, sg2_t, sg2, sp2, eeg2_t, eeg2_hi, eeg2_lo, eeg2_spk_t, eeg2_spk_hi, eeg2_spk_lo,
             emg2_t, emg2_hi, emg2_lo, emg2_spk_t, emg2_spk_hi, emg2_spk_lo, stim_t[1], 0.5, "0.5 mV")
f3 = build_f(L3, ne3_t, ne3, sg3_t, sg3, sp3, eeg3_t, eeg3_hi, eeg3_lo, eeg3_spk_t, eeg3_spk_hi, eeg3_spk_lo,
             emg3_t, emg3_hi, emg3_lo, emg3_spk_t, emg3_spk_hi, emg3_spk_lo, stim_t[2], 0.2, "0.2 mV")

layout = column(
    row(W(fa), column(W(hb), W(fb)), column(W(hc), W(fc))),
    row(column(W(fdl), row(W(lcd), W(fd))),
        row(W(lca), W(fauc)),
        column(W(he), W(fe))),
    row(W(f1), W(f2), W(f3)),
)

open("out.html", "w").write(file_html(layout, INLINE, "figure"))
